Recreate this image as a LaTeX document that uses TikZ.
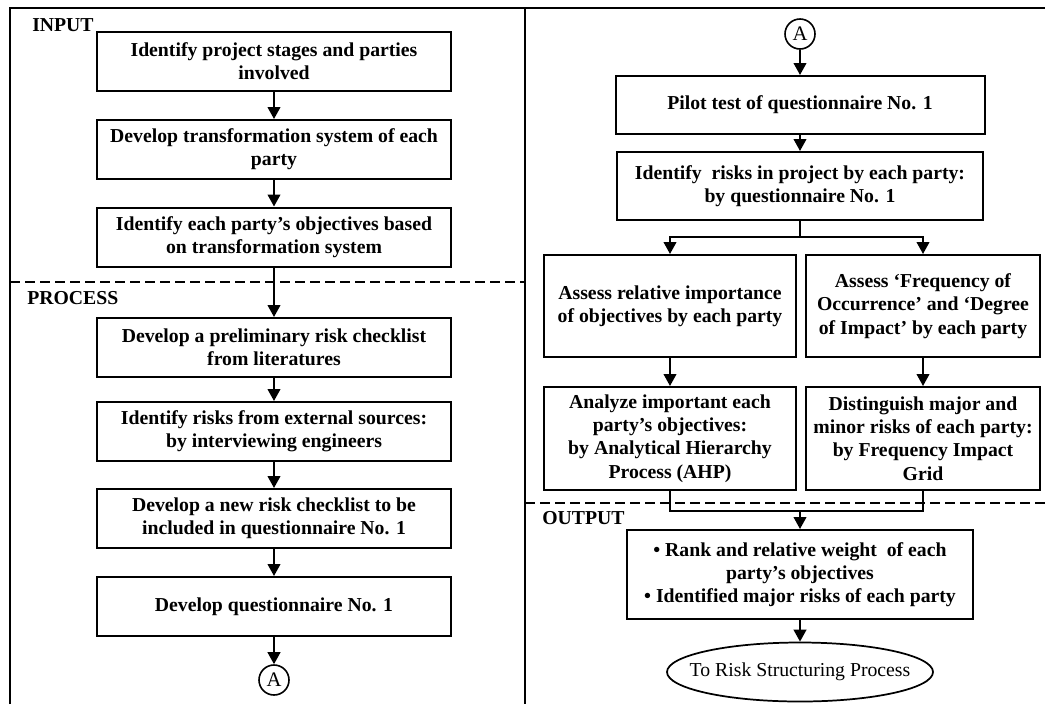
\documentclass[tikz,border=0pt]{standalone}
\usepackage{fontspec}
\setmainfont{Liberation Serif}
\usetikzlibrary{arrows.meta,shapes.geometric}

\tikzset{
  stepbox/.style={draw, line width=1.5pt, align=center, inner sep=2pt,
    font=\bfseries\fontsize{14.8}{17.4}\selectfont},
  conn/.style={circle, draw, line width=1.2pt, inner sep=0pt, minimum size=22.5pt,
    font=\fontsize{15.5}{17.4}\selectfont},
  phase/.style={anchor=west, inner sep=0pt, font=\bfseries\fontsize{14.8}{17.4}\selectfont},
  arr/.style={line width=1.5pt, -{Triangle[length=9pt,width=9.5pt]}},
  link/.style={line width=1.5pt},
  frame/.style={line width=1.5pt},
  sep/.style={line width=1.2pt, dash pattern=on 7.5pt off 3.75pt},
}

\begin{document}
\begin{tikzpicture}[x=0.75pt, y=-0.75pt]
      \useasboundingbox (0,0) rectangle (1045,704);
      \draw[frame] (10,704) -- (10,8) -- (1045,8);
      \draw[frame] (525,8) -- (525,704);
      \draw[sep] (10,282) -- (525,282);
      \draw[sep] (525,503) -- (1045,503);

      \draw
      (32,25)  node[phase](input){INPUT}
      (27,298) node[phase](process){PROCESS}
      (542,518) node[phase](output){OUTPUT};

      \draw
      (274,61)    node[stepbox, minimum width=265.5pt, minimum height=44.25pt](stages){Identify project stages and parties\\involved}
      (274,149.5) node[stepbox, minimum width=265.5pt, minimum height=44.25pt](transf){Develop transformation system of each\\party}
      (274,237)   node[stepbox, minimum width=265.5pt, minimum height=44.25pt](objs){Identify each party’s objectives based\\on transformation system}
      (274,347.5) node[stepbox, minimum width=265.5pt, minimum height=44.25pt](prelim){Develop a preliminary risk checklist\\from literatures}
      (274,431.5) node[stepbox, minimum width=265.5pt, minimum height=44.25pt](extern){Identify risks from external sources:\\by interviewing engineers}
      (274,518.5) node[stepbox, minimum width=265.5pt, minimum height=44.25pt](newlist){Develop a new risk checklist to be\\included in questionnaire No. 1}
      (274,606.5) node[stepbox, minimum width=265.5pt, minimum height=44.25pt](quest){Develop questionnaire No. 1}
      (274,680)   node[conn](linkA){A};

      \draw
      (800,34)    node[conn](fromA){A}
      (800,105)   node[stepbox, minimum width=276.75pt, minimum height=43.5pt](pilot){Pilot test of questionnaire No. 1}
      (800,186)   node[stepbox, minimum width=274.5pt, minimum height=51pt](idrisk){Identify\ \ risks in project by each party:\\by questionnaire No. 1}
      (670,306)   node[stepbox, minimum width=189pt, minimum height=76.5pt](assimp){Assess relative importance\\of objectives by each party}
      (923,306)   node[stepbox, minimum width=175.5pt, minimum height=76.5pt](assfreq){Assess ‘Frequency of\\Occurrence’ and ‘Degree\\of Impact’ by each party}
      (670,438.5) node[stepbox, minimum width=189pt, minimum height=77.25pt](ahp){Analyze important each\\party’s objectives:\\by Analytical Hierarchy\\Process (AHP)}
      (923,438.5) node[stepbox, minimum width=175.5pt, minimum height=77.25pt](grid){Distinguish major and\\minor risks of each party:\\by Frequency Impact\\Grid}
      (800,574.5) node[stepbox, minimum width=259.5pt, minimum height=66.75pt](result){• Rank and relative weight\ \ of each\\party’s objectives\\• Identified major risks of each party}
      (800,672)   node[ellipse, draw, line width=1.3pt, inner sep=0pt, minimum width=199.5pt, minimum height=44.25pt,
                       font=\fontsize{14.8}{17.4}\selectfont](structuring){\makebox[0pt]{To Risk Structuring Process}};

      \coordinate (split) at (800,237);
      \coordinate (merge) at (800,511);

      \draw[arr] (stages) -- (transf);
      \draw[arr] (transf) -- (objs);
      \draw[arr] (objs)   -- (prelim);
      \draw[arr] (prelim) -- (extern);
      \draw[arr] (extern) -- (newlist);
      \draw[arr] (newlist) -- (quest);
      \draw[arr] (quest)  -- (linkA);

      \draw[arr] (fromA)  -- (pilot);
      \draw[arr] (pilot)  -- (idrisk);
      \draw[link] (idrisk) -- (split);
      \draw[arr] (split) -| (assimp);
      \draw[arr] (split) -| (assfreq);
      \draw[arr] (assimp) -- (ahp);
      \draw[arr] (assfreq) -- (grid);
      \draw[link] (ahp)  |- (merge);
      \draw[link] (grid) |- (merge);
      \draw[arr] (merge) -- (result);
      \draw[arr] (result) -- (structuring);
    \end{tikzpicture}
\end{document}
